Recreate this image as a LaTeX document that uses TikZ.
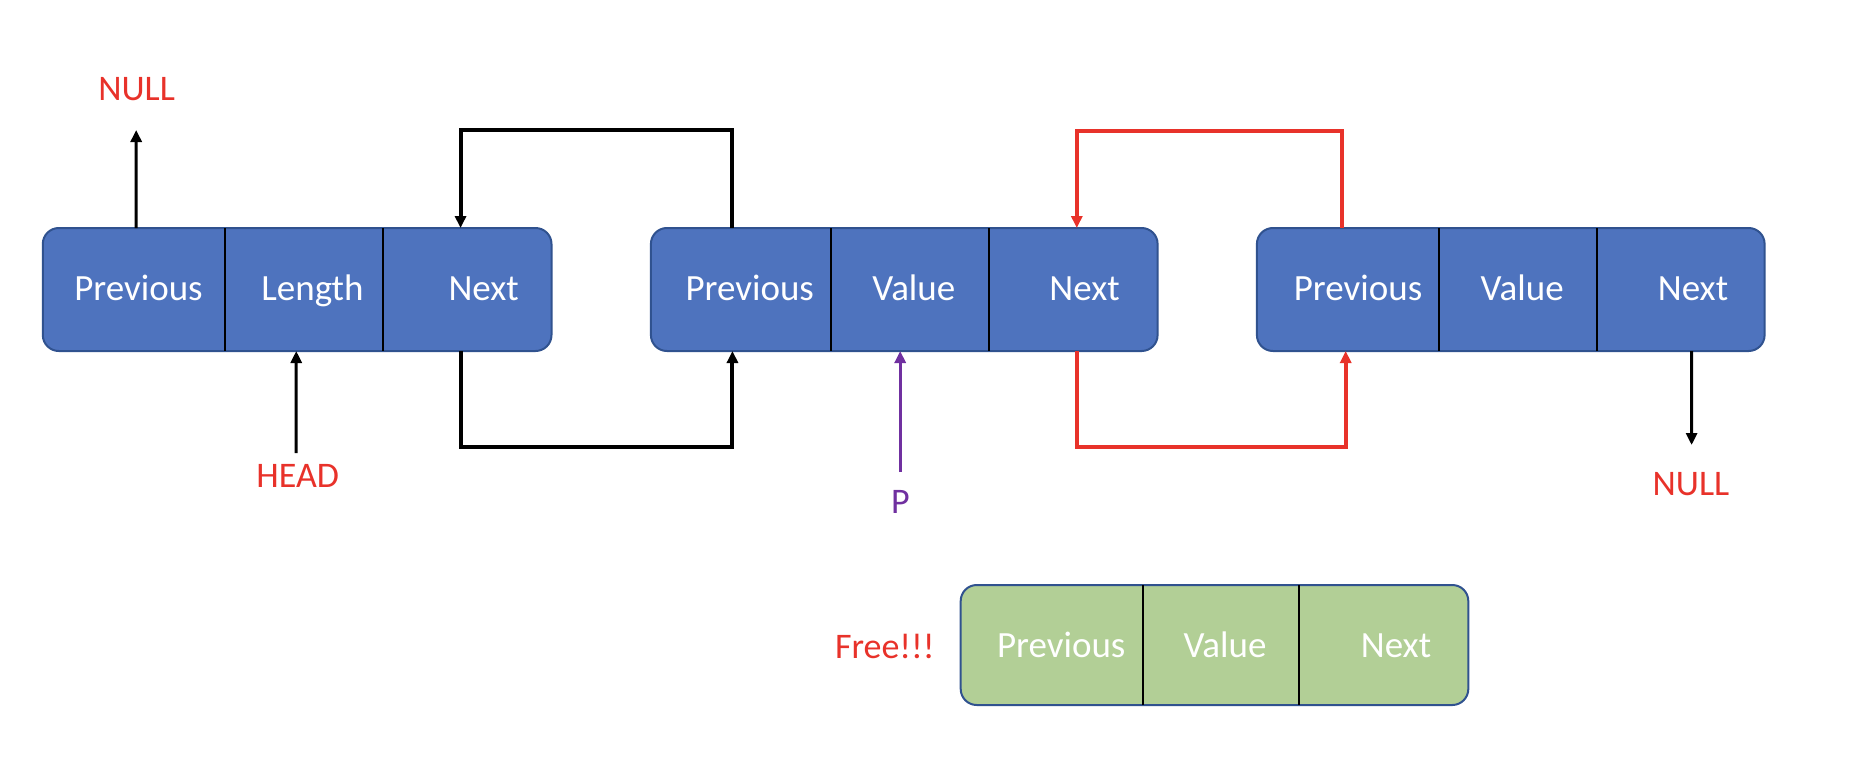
\documentclass[tikz,border=0pt]{standalone}
\usepackage{fontspec}
\setmainfont{Carlito}
\usetikzlibrary{arrows.meta}
\definecolor{nodeblue}{HTML}{4E73BE}
\definecolor{nodeborder}{HTML}{30528F}
\definecolor{freegreen}{HTML}{B2CF96}
\definecolor{labred}{HTML}{E8322A}
\definecolor{ptrpurple}{HTML}{7030A0}
\tikzset{
  listbox/.style={draw=nodeborder, line width=2pt, rounded corners=16pt, minimum height=123pt, inner sep=0pt, outer sep=0pt},
  cell/.style={minimum height=123pt, inner sep=0pt, outer sep=0pt},
  divider/.style={draw=black, line width=2pt},
  celltext/.style={anchor=base, text=white, inner sep=0pt, font=\fontsize{37}{42}\selectfont},
  redlabel/.style={anchor=base, text=labred, inner sep=0pt, font=\fontsize{36}{40}\selectfont},
  ptr/.style={line width=3pt, -{Triangle[width=11pt,length=12pt]}},
  loop/.style={line width=4pt, line join=miter, -{Triangle[width=11pt,length=12pt]}},
}
\begin{document}
\begin{tikzpicture}[x=1pt,y=-1pt]
\useasboundingbox (0,0) rectangle (1862,764);

% ---- box 1 (head) ----
\node[listbox, fill=nodeblue, minimum width=508.7pt] (b1) at (297.15,289.5) {};
\node[cell, minimum width=182.5pt] (b1c1) at (134.05,289.5) {};
\node[cell, minimum width=157.9pt] (b1c2) at (304.25,289.5) {};
\node[cell, minimum width=168.3pt] (b1c3) at (467.35,289.5) {};
\draw[divider] (b1c1.north east) -- (b1c1.south east);
\draw[divider] (b1c2.north east) -- (b1c2.south east);
\node[celltext] (t11) at ([xshift=4.4pt,yshift=-10.5pt]b1c1.center) {Previous};
\node[celltext] (t12) at ([xshift=8.2pt,yshift=-10.5pt]b1c2.center) {Length};
\node[celltext] (t13) at ([xshift=16.3pt,yshift=-10.5pt]b1c3.center) {Next};

% ---- box 2 ----
\node[listbox, fill=nodeblue, minimum width=506.7pt] (b2) at (904.25,289.5) {};
\node[cell, minimum width=180.1pt] (b2c1) at (740.95,289.5) {};
\node[cell, minimum width=158.4pt] (b2c2) at (910.2,289.5) {};
\node[cell, minimum width=168.2pt] (b2c3) at (1073.5,289.5) {};
\draw[divider] (b2c1.north east) -- (b2c1.south east);
\draw[divider] (b2c2.north east) -- (b2c2.south east);
\node[celltext] (t21) at ([xshift=8.8pt,yshift=-10.5pt]b2c1.center) {Previous};
\node[celltext] (t22) at ([xshift=3.6pt,yshift=-10.5pt]b2c2.center) {Value};
\node[celltext] (t23) at ([xshift=11.1pt,yshift=-10.5pt]b2c3.center) {Next};

% ---- box 3 ----
\node[listbox, fill=nodeblue, minimum width=507.7pt] (b3) at (1510.75,289.5) {};
\node[cell, minimum width=182.2pt] (b3c1) at (1348,289.5) {};
\node[cell, minimum width=157.6pt] (b3c2) at (1517.9,289.5) {};
\node[cell, minimum width=167.9pt] (b3c3) at (1680.65,289.5) {};
\draw[divider] (b3c1.north east) -- (b3c1.south east);
\draw[divider] (b3c2.north east) -- (b3c2.south east);
\node[celltext] (t31) at ([xshift=10pt,yshift=-10.5pt]b3c1.center) {Previous};
\node[celltext] (t32) at ([xshift=4.3pt,yshift=-10.5pt]b3c2.center) {Value};
\node[celltext] (t33) at ([xshift=12.4pt,yshift=-10.5pt]b3c3.center) {Next};

% ---- freed box ----
\node[listbox, fill=freegreen, minimum width=507.6pt, minimum height=120pt] (g) at (1214.5,645) {};
\node[cell, minimum width=182.2pt, minimum height=120pt] (gc1) at (1051.8,645) {};
\node[cell, minimum width=155.8pt, minimum height=120pt] (gc2) at (1220.8,645) {};
\node[cell, minimum width=169.6pt, minimum height=120pt] (gc3) at (1383.5,645) {};
\draw[divider] (gc1.north east) -- (gc1.south east);
\draw[divider] (gc2.north east) -- (gc2.south east);
\node[celltext] (tg1) at ([xshift=9.4pt,yshift=-12pt]gc1.center) {Previous};
\node[celltext] (tg2) at ([xshift=4.2pt,yshift=-12pt]gc2.center) {Value};
\node[celltext] (tg3) at ([xshift=12.5pt,yshift=-12pt]gc3.center) {Next};

% ---- labels ----
\node[redlabel] (null1) at (136.6,100) {NULL};
\node[redlabel] (head) at (297.7,487) {HEAD};
\node[anchor=base, text=ptrpurple, inner sep=0pt, font=\fontsize{36}{40}\selectfont] (p) at (900.5,513) {P};
\node[redlabel] (null2) at (1691,495) {NULL};
\node[redlabel] (free) at (884.8,658) {Free!!!};

\coordinate (null1end) at (136.2,130);
\coordinate (headstart) at (296.2,453);
\coordinate (pstart) at (900.2,472);
\coordinate (null2end) at (1691.6,445);

% ---- pointers ----
\draw[ptr] ([xshift=2.1pt]b1c1.north) -- (null1end);
\draw[ptr] (headstart) -- ([xshift=-8pt]b1c2.south);
\draw[ptr, draw=ptrpurple] (pstart) -- ([xshift=-10pt]b2c2.south);
\draw[ptr] ([xshift=11pt]b3c3.south) -- (null2end);

% ---- black links ----
\draw[loop] ([xshift=-8.5pt]b2c1.north) -- ++(0,-98) -| ([xshift=-6.8pt]b1c3.north);
\draw[loop] ([xshift=-6.8pt]b1c3.south) -- ++(0,96) -| ([xshift=-8.5pt]b2c1.south);

% ---- red links ----
\draw[loop, draw=labred] ([xshift=-6pt]b3c1.north) -- ++(0,-97) -| ([xshift=3.3pt]b2c3.north);
\draw[loop, draw=labred] ([xshift=3.3pt]b2c3.south) -- ++(0,96) -| ([xshift=-2.3pt]b3c1.south);
\end{tikzpicture}
\end{document}
